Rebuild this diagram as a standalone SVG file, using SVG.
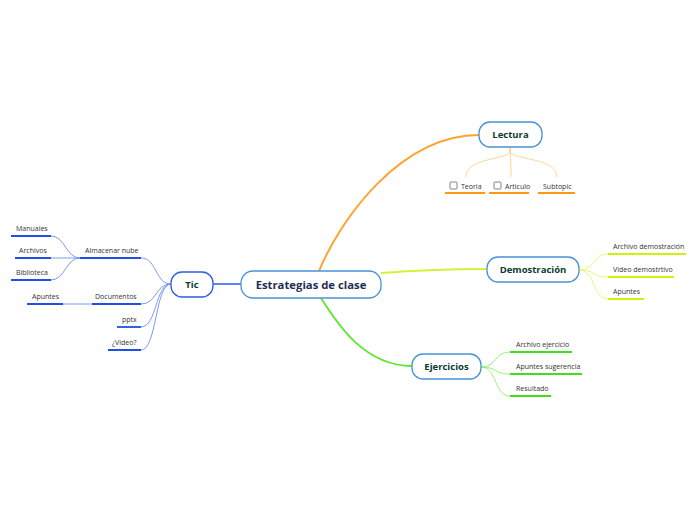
<svg xmlns="http://www.w3.org/2000/svg" width="696" height="520" viewBox="0 0 696 520">
<style>
.t{font-family:"Open Sans","Liberation Sans",sans-serif;font-size:7px;fill:#333}
.nt{font-family:"Open Sans","Liberation Sans",sans-serif;font-weight:bold;font-size:9.5px;fill:#0c3d2f;text-anchor:middle}
.box{fill:#fff;stroke:#4a92d6;stroke-width:1.3}
.cb{fill:#fff;stroke:#666;stroke-width:0.8}
</style>
<rect width="696" height="520" fill="#fff"/>
<g id="connectors" fill="none">
  <path d="M319,271 C340,220 400,135 479,135" stroke="#ffa330" stroke-width="2"/>
  <path d="M381,273 C420,270 450,269 487,269" stroke="#d6f03a" stroke-width="1.8"/>
  <path d="M321,298 C338,325 365,366 412,366" stroke="#5ee82c" stroke-width="1.8"/>
  <path d="M213,284 L241,284" stroke="#2a5ee8" stroke-width="1.5"/>
  <g stroke="#ffcf86" stroke-width="0.9">
    <path d="M510,147 L510,152 C505,160 466,158 466,177"/>
    <path d="M510,147 L510,152 C511,160 511,165 511,177"/>
    <path d="M510,147 L510,152 C515,160 557,158 557,177"/>
  </g>
  <g stroke="#e3f56a" stroke-width="0.9">
    <path d="M579,270 C596,270 592,254 608,254"/>
    <path d="M579,270 C596,270 592,277 608,277"/>
    <path d="M579,270 C596,270 592,299 608,299"/>
  </g>
  <g stroke="#8ef06a" stroke-width="0.9">
    <path d="M481,367 C497,367 494,352 510,352"/>
    <path d="M481,367 C497,367 494,374 510,374"/>
    <path d="M481,367 C497,367 494,396 510,396"/>
  </g>
  <g stroke="#6f8ff2" stroke-width="0.9">
    <path d="M171,284 C155,284 157,258 141,258"/>
    <path d="M171,284 C155,284 157,304 141,304"/>
    <path d="M171,284 C155,284 157,327 141,327"/>
    <path d="M171,284 C155,284 157,350 141,350"/>
    <path d="M80,258 C66,258 65,236 51,236"/>
    <path d="M80,258 L51,258"/>
    <path d="M80,258 C66,258 65,280 51,280"/>
    <path d="M92,304 L63,304"/>
  </g>
</g>
<g id="central">
  <rect class="box" x="241" y="271" width="140" height="27" rx="12"/>
  <text x="311" y="288.5" text-anchor="middle" style="font-family:'Open Sans','Liberation Sans',sans-serif;font-weight:bold;font-size:11.3px;fill:#1e2f55">Estrategias de clase</text>
</g>
<g id="lectura">
  <rect class="box" x="479" y="122" width="63" height="25" rx="11"/>
  <text class="nt" x="510.5" y="138">Lectura</text>
</g>
<g id="teoria">
  <rect class="cb" x="450" y="182" width="7" height="7" rx="1"/>
  <text class="t" x="461" y="188.5">Teoria</text>
  <line x1="445" y1="193" x2="485" y2="193" stroke="#ff9a10" stroke-width="1.8"/>
</g>
<g id="articulo">
  <rect class="cb" x="494" y="182" width="7" height="7" rx="1"/>
  <text class="t" x="505" y="188.5">Articulo</text>
  <line x1="489" y1="193" x2="529" y2="193" stroke="#ff9a10" stroke-width="1.8"/>
</g>
<g id="subtopic">
  <text class="t" x="543" y="188.5">Subtopic</text>
  <line x1="538" y1="193" x2="575" y2="193" stroke="#ff9a10" stroke-width="1.8"/>
</g>
<g id="demostracion">
  <rect class="box" x="487" y="257" width="92" height="25" rx="11"/>
  <text class="nt" x="533" y="273">Demostración</text>
</g>
<g id="archivo-demostracion">
  <text class="t" x="613" y="249">Archivo demostración</text>
  <line x1="608" y1="254" x2="686" y2="254" stroke="#d2ef10" stroke-width="1.8"/>
</g>
<g id="video-demostrativo">
  <text class="t" x="613" y="272">Video demostrtivo</text>
  <line x1="608" y1="277" x2="674" y2="277" stroke="#d2ef10" stroke-width="1.8"/>
</g>
<g id="apuntes-demo">
  <text class="t" x="613" y="293.5">Apuntes</text>
  <line x1="608" y1="299" x2="644" y2="299" stroke="#d2ef10" stroke-width="1.8"/>
</g>
<g id="ejercicios">
  <rect class="box" x="412" y="354" width="69" height="25" rx="11"/>
  <text class="nt" x="446.5" y="370">Ejercicios</text>
</g>
<g id="archivo-ejercicio">
  <text class="t" x="516" y="347">Archivo ejercicio</text>
  <line x1="510" y1="352" x2="572" y2="352" stroke="#3fe01a" stroke-width="1.8"/>
</g>
<g id="apuntes-sugerencia">
  <text class="t" x="516" y="369">Apuntes sugerencia</text>
  <line x1="510" y1="374" x2="582" y2="374" stroke="#3fe01a" stroke-width="1.8"/>
</g>
<g id="resultado">
  <text class="t" x="516" y="390.5">Resultado</text>
  <line x1="510" y1="396" x2="551" y2="396" stroke="#3fe01a" stroke-width="1.8"/>
</g>
<g id="tic">
  <rect x="171" y="272" width="42" height="25" rx="11" fill="#fff" stroke="#2a5ee8" stroke-width="1.3"/>
  <text class="nt" x="192" y="288">Tic</text>
</g>
<g id="almacenar-nube">
  <text class="t" x="85" y="252.5">Almacenar nube</text>
  <line x1="80" y1="258" x2="141" y2="258" stroke="#1f4fe8" stroke-width="1.8"/>
</g>
<g id="manuales">
  <text class="t" x="16" y="230.5">Manuales</text>
  <line x1="11" y1="236" x2="51" y2="236" stroke="#1f4fe8" stroke-width="1.8"/>
</g>
<g id="archivos">
  <text class="t" x="19" y="252.5">Archivos</text>
  <line x1="15" y1="258" x2="51" y2="258" stroke="#1f4fe8" stroke-width="1.8"/>
</g>
<g id="biblioteca">
  <text class="t" x="16" y="274.5">Biblioteca</text>
  <line x1="11" y1="280" x2="51" y2="280" stroke="#1f4fe8" stroke-width="1.8"/>
</g>
<g id="documentos">
  <text class="t" x="95" y="298.5">Documentos</text>
  <line x1="92" y1="304" x2="141" y2="304" stroke="#1f4fe8" stroke-width="1.8"/>
</g>
<g id="apuntes-doc">
  <text class="t" x="32" y="298.5">Apuntes</text>
  <line x1="27" y1="304" x2="63" y2="304" stroke="#1f4fe8" stroke-width="1.8"/>
</g>
<g id="pptx">
  <text class="t" x="122" y="321.5">pptx</text>
  <line x1="117" y1="327" x2="141" y2="327" stroke="#1f4fe8" stroke-width="1.8"/>
</g>
<g id="video">
  <text class="t" x="112" y="344.5">¿Video?</text>
  <line x1="108" y1="350" x2="141" y2="350" stroke="#1f4fe8" stroke-width="1.8"/>
</g>
</svg>
